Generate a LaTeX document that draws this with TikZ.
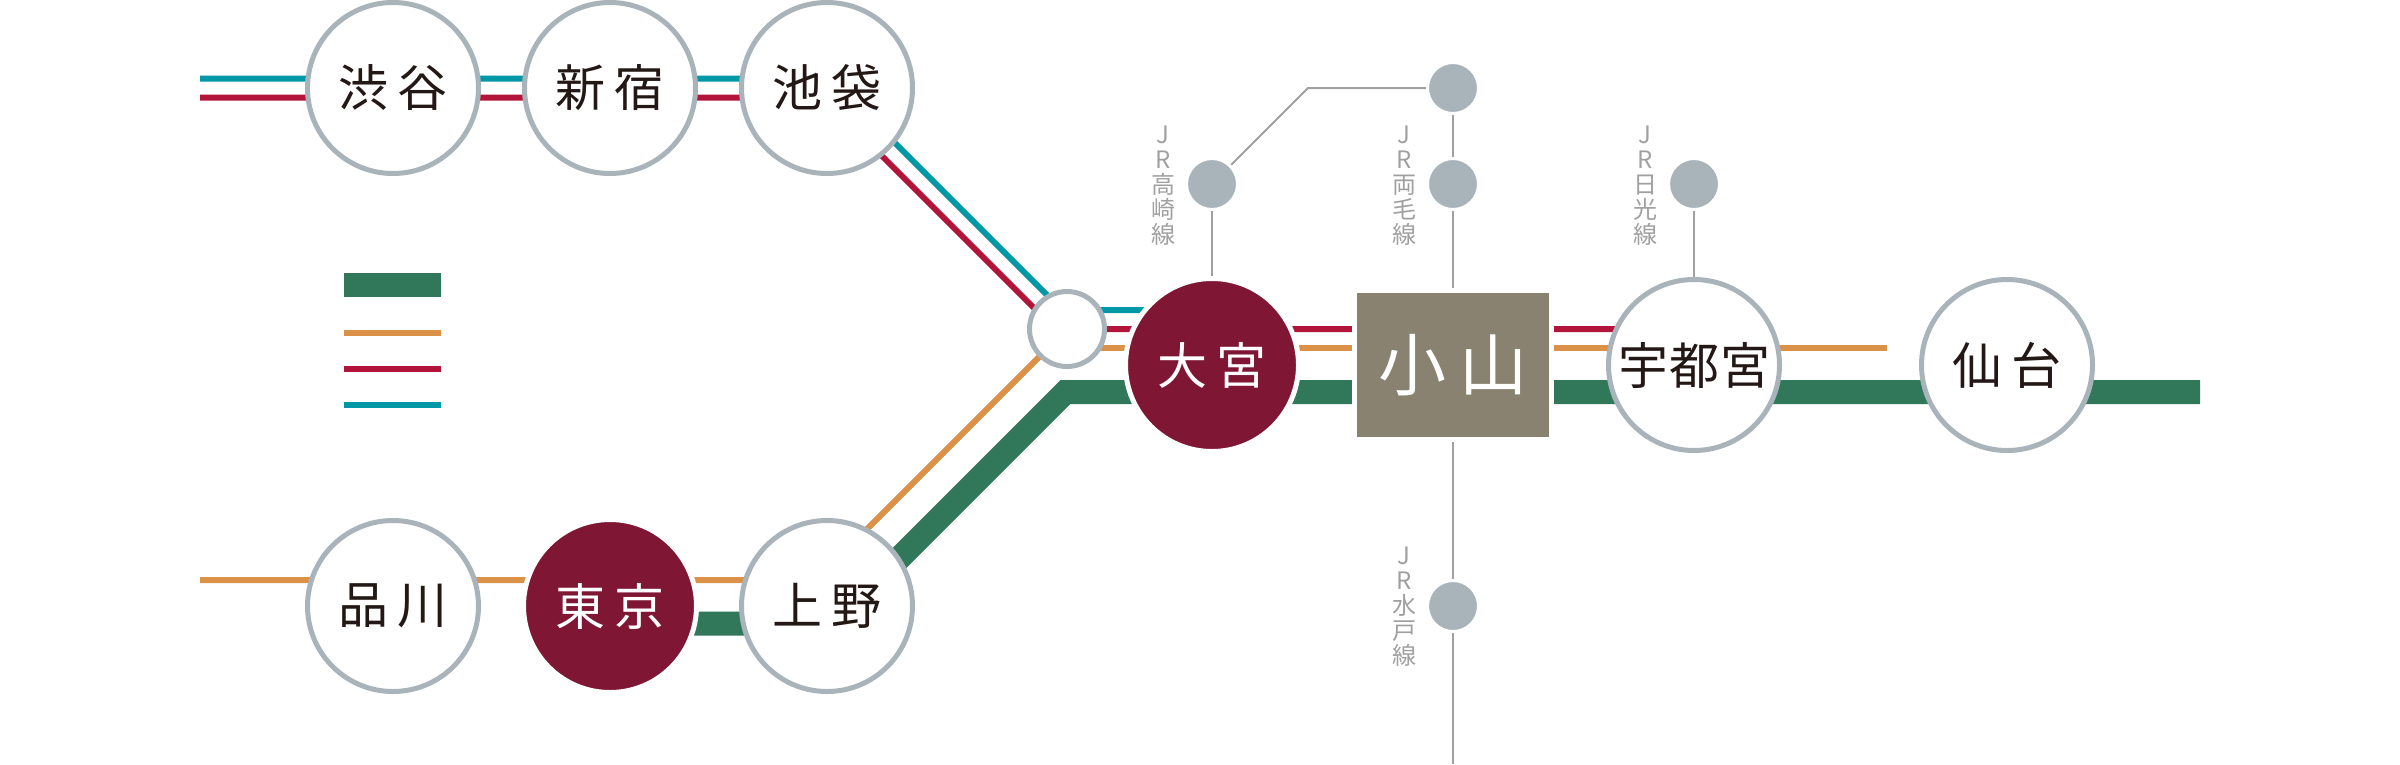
\documentclass[tikz,border=0pt]{standalone}
\usepackage{fontspec}
\setmainfont{Noto Sans CJK JP}
\usetikzlibrary{backgrounds}
\definecolor{lineteal}{RGB}{0,151,167}
\definecolor{linered}{RGB}{178,20,58}
\definecolor{lineorange}{RGB}{219,145,71}
\definecolor{linegreen}{RGB}{49,120,90}
\definecolor{ringgray}{RGB}{169,180,186}
\definecolor{thingray}{RGB}{160,160,160}
\definecolor{wine}{RGB}{127,23,52}
\definecolor{boxbrown}{RGB}{138,130,112}
\definecolor{inkblack}{RGB}{35,24,21}
\tikzset{
  station/.style={circle, draw=ringgray, fill=white, line width=5pt, minimum size=171pt, inner sep=0pt, text=inkblack, font=\fontsize{50}{58}\selectfont},
  major/.style={circle, draw=white, fill=wine, line width=5pt, minimum size=173pt, inner sep=0pt, text=white, font=\fontsize{50}{58}\selectfont},
  dot/.style={circle, draw=white, fill=ringgray, line width=3pt, minimum size=51pt, inner sep=0pt},
  linename/.style={align=center, inner sep=0pt, text=thingray, font=\fontsize{24}{25}\selectfont},
  swatch/.style={rectangle, inner sep=0pt, minimum width=97pt},
  tealline/.style={draw=lineteal, line width=6pt},
  redline/.style={draw=linered, line width=6pt},
  orangeline/.style={draw=lineorange, line width=6pt},
  greenline/.style={draw=linegreen, line width=24pt},
  thinline/.style={draw=thingray, line width=2pt}
}
\begin{document}
\begin{tikzpicture}[x=1pt, y=-1pt, node distance=217pt]
  \useasboundingbox (0,0) rectangle (2400,764);
  % stations
  \node[station] (shibuya) at (393,88) {渋\hspace{9pt}谷};
  \node[station] (shinjuku) [right of=shibuya] {新\hspace{9pt}宿};
  \node[station] (ikebukuro) [right of=shinjuku] {池\hspace{9pt}袋};
  \node[station] (shinagawa) [below of=shibuya, node distance=518pt] {品\hspace{9pt}川};
  \node[major] (tokyo) [right of=shinagawa] {東\hspace{9pt}京};
  \node[station] (ueno) [right of=tokyo] {上\hspace{9pt}野};
  \node[circle, draw=ringgray, fill=white, line width=5pt, minimum size=75pt, inner sep=0pt] (junction) at (1067,329) {};
  \node[major] (omiya) at (1212,365) {大\hspace{9pt}宮};
  \node[rectangle, draw=white, fill=boxbrown, line width=5pt, minimum width=197pt, minimum height=149pt, inner sep=0pt, text=white, font=\fontsize{68}{76}\selectfont] (oyama) at (1453,365) {小\hspace{14pt}山};
  \node[station] (utsunomiya) at (1694,365) {宇\hspace{1pt}都\hspace{1pt}宮};
  \node[station] (sendai) at (2007,365) {仙\hspace{9pt}台};
  % branch lines
  \node[dot] (dottop) at (1453,88) {};
  \node[dot] (dottakasaki) at (1212,184) {};
  \node[dot] (dotryomo) at (1453,184) {};
  \node[dot] (dotnikko) at (1694,184) {};
  \node[dot] (dotmito) at (1453,606) {};
  \node[linename] (nametakasaki) at (1163,185.5) {J\\R\\高\\崎\\線};
  \node[linename] (nameryomo) at (1404,185.5) {J\\R\\両\\毛\\線};
  \node[linename] (namenikko) at (1645,185.5) {J\\R\\日\\光\\線};
  \node[linename] (namemito) at (1404,607) {J\\R\\水\\戸\\線};
  % legend
  \node[swatch, fill=linegreen, minimum height=24pt] (keygreen) at (392.5,285) {};
  \node[swatch, fill=lineorange, minimum height=6pt] (keyorange) at (392.5,333) {};
  \node[swatch, fill=linered, minimum height=6pt] (keyred) at (392.5,369) {};
  \node[swatch, fill=lineteal, minimum height=6pt] (keyteal) at (392.5,405) {};
  % free ends and bends
  \coordinate (tealwest) at (200,78.5);
  \coordinate (redwest) at (200,97.5);
  \coordinate (orangewest) at (200,580);
  \coordinate (orangeeast) at (1887,348);
  \coordinate (greenbend) at (1065.5,392);
  \coordinate (greeneast) at (2200,392);
  \coordinate (thinbend) at (1308,88);
  \coordinate (mitosouth) at (1453,764);
  \begin{scope}[on background layer]
    \draw[tealline] (tealwest) -- ([yshift=9.5pt]shibuya.center) -- ([yshift=9.5pt]shinjuku.center) -- ([xshift=3.5pt,yshift=9.5pt]ikebukuro.center) -- ([xshift=-5pt,yshift=19pt]junction.center) -- ([yshift=55pt]omiya.center);
    \draw[redline] (redwest) -- ([yshift=-9.5pt]shibuya.center) -- ([yshift=-9.5pt]shinjuku.center) -- ([xshift=-3.5pt,yshift=-9.5pt]ikebukuro.center) -- ([xshift=-12pt]junction.center) -- ([yshift=36pt]omiya.center) -- ([yshift=36pt]oyama.center) -- ([yshift=36pt]utsunomiya.center);
    \draw[orangeline] (orangewest) -- ([yshift=26pt]shinagawa.center) -- ([yshift=26pt]tokyo.center) -- ([xshift=-11pt,yshift=26pt]ueno.center) -- (junction.center);
    \draw[orangeline] ([yshift=-19pt]junction.center) -- ([yshift=17pt]omiya.center) -- ([yshift=17pt]oyama.center) -- ([yshift=17pt]utsunomiya.center) -- (orangeeast);
    \draw[greenline] ([yshift=-17.5pt]tokyo.center) -- ([xshift=7pt,yshift=-17.5pt]ueno.center) -- (greenbend) -- (greeneast);
    \draw[thinline] (dottakasaki) -- (omiya);
    \draw[thinline] (dottakasaki.center) -- (thinbend) -- (dottop.center);
    \draw[thinline] (dottop) -- (dotryomo);
    \draw[thinline] (dotryomo) -- (oyama);
    \draw[thinline] (dotnikko) -- (utsunomiya);
    \draw[thinline] (oyama) -- (dotmito);
    \draw[thinline] (dotmito) -- (mitosouth);
  \end{scope}
\end{tikzpicture}
\end{document}
